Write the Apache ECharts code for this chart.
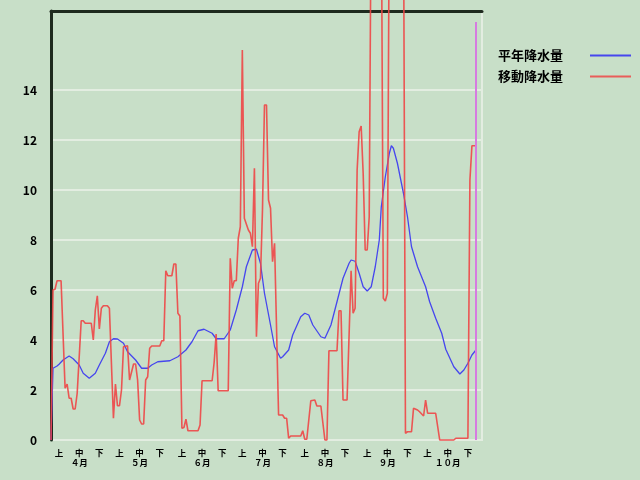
<!DOCTYPE html>
<html><head><meta charset="utf-8">
<script src="https://cdn.jsdelivr.net/npm/echarts@6/dist/echarts.min.js"></script>
<style>html,body{margin:0;padding:0;background:#c8dfc8}#c{width:640px;height:480px}</style>
</head><body><div id="c"></div>
<script>
const monthLabels = ['４月','５月','６月','７月','８月','９月','１０月'];
const monthNumbers = [4,5,6,7,8,9,10];
const monthLengths = [30,31,30,31,31,30,31];
const dekadDays = [5,15,25];
const dekadLabels = ['上','中','下'];
const yLabelMax = 14;
const todayIndex = 211;
const seriesNames = ['平年降水量','移動降水量'];

// 平年降水量 (day index from 4/1, value)
const blueDays = [0,1,3,4,6,9,11,14,16,19,22,24,27,29,31,33,36,38,42,45,48,50,53,59,63,67,70,73,76,80,82,86,89,92,95,97,100,102,104,106,109,111,114,115,118,120,124,126,128,130,134,136,139,142,145,148,149,151,153,155,157,159,161,163,164,166,168,169,170,172,175,177,179,182,186,188,191,194,196,200,203,205,207,209,211];
const blueVals = [0,2.87,2.96,3.03,3.2,3.36,3.25,3.0,2.67,2.47,2.67,3.0,3.47,3.93,4.05,4.04,3.87,3.53,3.2,2.87,2.87,3.0,3.13,3.17,3.33,3.6,3.93,4.37,4.43,4.27,4.05,4.05,4.4,5.2,6.13,6.93,7.6,7.63,7.07,5.87,4.6,3.73,3.27,3.33,3.6,4.2,4.93,5.07,5.0,4.6,4.13,4.07,4.6,5.53,6.47,7.07,7.2,7.15,6.67,6.13,5.96,6.13,6.93,8.0,9.33,10.53,11.47,11.77,11.67,11.07,9.87,8.93,7.73,6.93,6.13,5.53,4.87,4.27,3.63,2.93,2.64,2.8,3.07,3.4,3.6];

// 移動降水量 (day index from 4/1, value)
const redDays = [0,1,2,3,5,7,8,9,10,11,12,13,15,16,17,20,21,22,23,24,25,26,28,29,31,32,33,34,35,36,38,39,41,42,43,44,45,46,47,48,49,50,54,55,56,57,58,60,61,62,63,64,65,66,67,68,73,74,75,80,81,82,83,88,89,90,91,92,93,94,95,96,98,99,100,101,102,103,104,105,106,107,108,109,110,111,113,115,116,117,118,119,124,125,126,127,129,131,132,134,136,137,138,142,143,144,145,147,149,150,151,152,153,154,155,156,157,158,159,164,165,166,167,168,175,176,177,179,180,182,183,185,186,187,191,193,200,201,207,208,209,211];
const redVals = [0,6.0,6.03,6.37,6.37,2.07,2.24,1.67,1.67,1.24,1.24,1.87,4.77,4.77,4.67,4.67,4.0,5.2,5.77,4.44,5.27,5.37,5.37,5.27,0.87,2.24,1.37,1.37,2.0,3.73,3.77,2.4,3.04,3.04,2.4,0.8,0.64,0.64,2.4,2.53,3.67,3.76,3.76,3.97,3.97,6.77,6.57,6.57,7.04,7.04,5.07,4.96,0.47,0.5,0.83,0.37,0.37,0.6,2.37,2.37,3.1,4.24,1.97,1.97,7.27,6.07,6.37,6.37,8.07,8.53,15.6,8.87,8.4,8.27,7.73,10.87,4.13,6.27,6.47,9.2,13.4,13.4,9.6,9.27,7.13,7.87,1.0,1.0,0.87,0.87,0.07,0.16,0.16,0.37,0.03,0.03,1.57,1.6,1.36,1.36,0,0,3.57,3.57,5.17,5.17,1.6,1.6,6.77,5.07,5.27,10.8,12.33,12.56,10.67,7.6,7.6,8.93,22,22,5.67,5.56,5.87,22,22,0.27,0.33,0.33,1.27,1.2,1.13,0.96,1.6,1.07,1.07,0,0,0.07,0.07,10.4,11.77,11.77];

const categories = [];
monthNumbers.forEach((m, i) => { for (let d = 1; d <= monthLengths[i]; d++) categories.push(m + '/' + d); });
categories.push('11/1');

const pairs = (xs, ys) => xs.map((x, i) => [x, ys[i]]);
const FONT = '"Noto Sans CJK JP", "Noto Sans", sans-serif';
const BLUE = '#4646ee', RED = '#ee4646';

const chart = echarts.init(document.getElementById('c'));
chart.setOption({
  animation: false,
  backgroundColor: '#c8dfc8',
  grid: { left: 51, right: 158, top: 11, bottom: 40, show: true, borderColor: '#e3ede1', borderWidth: 2, backgroundColor: 'transparent' },
  legend: {
    data: seriesNames, orient: 'vertical', right: 4, top: 44, align: 'right', icon: 'rect',
    itemWidth: 41, itemHeight: 2, itemGap: 8,
    textStyle: { fontSize: 13, fontWeight: 'bold', color: '#000', fontFamily: FONT, padding: [0, 22, 0, 0] }
  },
  xAxis: [{
    type: 'category', data: categories, boundaryGap: false,
    axisLine: { show: false }, axisTick: { show: false }, splitLine: { show: false },
    axisLabel: {
      interval: (idx, val) => dekadDays.includes(+String(val).split('/')[1]),
      formatter: (val) => {
        const [m, d] = String(val).split('/').map(Number);
        const k = dekadDays.indexOf(d);
        if (k < 0) return '';
        return k === 1 ? dekadLabels[k] + '\n' + monthLabels[monthNumbers.indexOf(m)] : dekadLabels[k];
      },
      margin: 8, fontSize: 8.5, lineHeight: 10, fontWeight: 'bold', color: '#000', fontFamily: FONT
    }
  }, {
    type: 'category', data: categories, boundaryGap: false, position: 'top',
    axisLine: { show: true, lineStyle: { color: '#1e2a1e', width: 3 } },
    axisTick: { show: false }, axisLabel: { show: false }, splitLine: { show: false }
  }],
  yAxis: {
    type: 'value', min: 0, max: 17.16, interval: 2,
    axisLine: { show: true, lineStyle: { color: '#1e2a1e', width: 3 } },
    axisTick: { show: false },
    axisLabel: { formatter: v => v <= yLabelMax ? String(v) : '', margin: 14, fontSize: 12, fontWeight: 'bold', color: '#000', fontFamily: FONT },
    splitLine: { show: true, lineStyle: { width: 2, color: ['#e3ede1','#e3ede1','#e3ede1','#e3ede1','#e3ede1','#e3ede1','#e3ede1','#e3ede1','rgba(0,0,0,0)','rgba(0,0,0,0)'] } }
  },
  series: [{
    name: seriesNames[0], type: 'line', data: pairs(blueDays, blueVals),
    symbol: 'none', lineStyle: { color: BLUE, width: 1.3 }, itemStyle: { color: BLUE },
    markLine: {
      silent: true, symbol: 'none', label: { show: false },
      lineStyle: { color: '#d67be0', width: 2, type: 'solid' },
      data: [[{ coord: [categories[todayIndex], 0] }, { coord: [categories[todayIndex], 16.72] }]]
    }
  }, {
    name: seriesNames[1], type: 'line', data: pairs(redDays, redVals), clip: false,
    symbol: 'none', lineStyle: { color: RED, width: 1.6, opacity: 0.9 }, itemStyle: { color: RED, opacity: 0.85 }
  }]
});
</script></body></html>
